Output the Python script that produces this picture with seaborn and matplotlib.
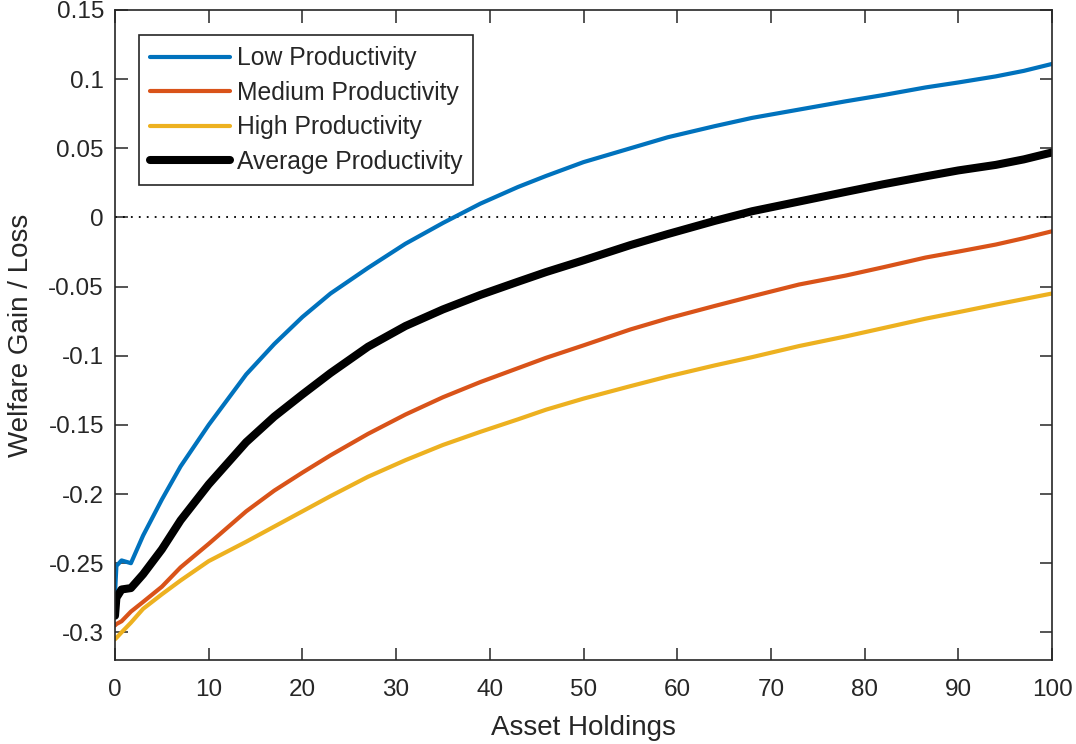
import numpy as np
import pandas as pd
import matplotlib
matplotlib.use("Agg")
import matplotlib.pyplot as plt
import seaborn as sns

# ---- data ----
asset = [0, 0.15, 0.7, 1.7, 3, 5, 7, 10, 14, 17, 20, 23, 27, 31, 35, 39, 43, 46,
         50, 55, 59, 64, 68, 73, 78, 82, 86.5, 90, 94, 97, 100]

low_prod = [-0.272, -0.252, -0.248, -0.250, -0.230, -0.204, -0.180, -0.150, -0.1135,
            -0.0915, -0.072, -0.055, -0.0365, -0.019, -0.004, 0.010, 0.022, 0.030,
            0.040, 0.050, 0.058, 0.066, 0.072, 0.078, 0.084, 0.0885, 0.094, 0.0976,
            0.102, 0.106, 0.111]

med_prod = [-0.295, -0.294, -0.292, -0.285, -0.278, -0.267, -0.253, -0.236, -0.2125,
            -0.1975, -0.1845, -0.172, -0.1565, -0.1425, -0.130, -0.119, -0.109, -0.1015,
            -0.0925, -0.081, -0.073, -0.064, -0.057, -0.0485, -0.042, -0.036, -0.029,
            -0.0247, -0.0196, -0.015, -0.010]

high_prod = [-0.305, -0.304, -0.300, -0.293, -0.283, -0.2725, -0.2625, -0.2485, -0.2345,
             -0.2235, -0.2125, -0.2015, -0.1875, -0.1755, -0.1645, -0.155, -0.146, -0.139,
             -0.131, -0.122, -0.115, -0.107, -0.101, -0.093, -0.086, -0.080, -0.0732,
             -0.0685, -0.063, -0.059, -0.055]

avg_prod = [-0.288, -0.275, -0.269, -0.268, -0.258, -0.240, -0.219, -0.193, -0.1625,
            -0.144, -0.128, -0.1125, -0.0935, -0.0785, -0.0665, -0.056, -0.0465, -0.0395,
            -0.031, -0.020, -0.012, -0.0025, 0.0045, 0.0115, 0.0185, 0.024, 0.0297,
            0.034, 0.038, 0.042, 0.047]

series_names = ["Low Productivity", "Medium Productivity", "High Productivity",
                "Average Productivity"]
yticks = [-0.3, -0.25, -0.2, -0.15, -0.1, -0.05, 0, 0.05, 0.1, 0.15]
ytick_labels = ["-0.3", "-0.25", "-0.2", "-0.15", "-0.1", "-0.05", "0", "0.05", "0.1", "0.15"]
xticks = [0, 10, 20, 30, 40, 50, 60, 70, 80, 90, 100]

# ---- style ----
sns.set_style("ticks")
plt.rcParams["font.family"] = ["Liberation Sans", "DejaVu Sans"]
plt.rcParams["axes.unicode_minus"] = False

colors = ["#0072BD", "#D95319", "#EDB120", "#000000"]
widths = [3.0, 3.0, 3.0, 5.8]
values = [low_prod, med_prod, high_prod, avg_prod]

fig = plt.figure(figsize=(10.76, 7.44), dpi=100)
ax = fig.add_axes([115 / 1076, 1 - 660 / 744, (1052 - 115) / 1076, (660 - 10) / 744])

for name, vals, c, w in zip(series_names, values, colors, widths):
    df = pd.DataFrame({"x": asset, "y": vals})
    sns.lineplot(data=df, x="x", y="y", ax=ax, color=c, linewidth=w, label=name,
                 sort=False, estimator=None)

ax.axhline(0, color="black", linewidth=1.3, linestyle=(0, (1, 3.4)), zorder=1)

ax.set_xlim(0, 100)
ax.set_ylim(-0.32, 0.15)
ax.set_xticks(xticks)
ax.set_xticklabels([str(t) for t in xticks])
ax.set_yticks(yticks)
ax.set_yticklabels(ytick_labels)

for s in ax.spines.values():
    s.set_visible(True)
    s.set_linewidth(1.2)
    s.set_color("#262626")
ax.tick_params(direction="in", length=9, width=1.1, top=True, right=True,
               labelsize=17.5, colors="#262626", labelcolor="#262626", pad=8)
ax.tick_params(axis="x", pad=14)

ax.set_xlabel("Asset Holdings", fontsize=20, color="#262626", labelpad=10)
ax.set_ylabel("Welfare Gain / Loss", fontsize=20, color="#262626", labelpad=10)

leg = ax.legend(loc="upper left", bbox_to_anchor=(0.026, 0.961), fontsize=17.8,
                frameon=True, fancybox=False, handlelength=3.2, handletextpad=0.28,
                labelspacing=0.42, borderpad=0.45, borderaxespad=0)
leg.get_frame().set_edgecolor("#262626")
leg.get_frame().set_linewidth(1.2)
leg.get_frame().set_alpha(1)

fig.savefig("out.png", dpi=100)
